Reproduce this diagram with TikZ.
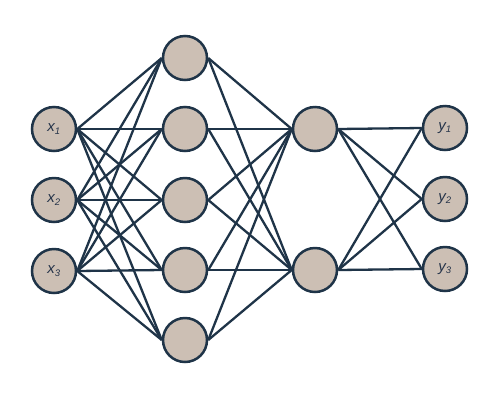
\documentclass[tikz,border=0pt]{standalone}
\usepackage{fontspec}
\setmainfont{Liberation Sans}
\usetikzlibrary{backgrounds}
\definecolor{nodefill}{HTML}{CCBFB4}
\definecolor{edgecol}{HTML}{1F3448}
\definecolor{txtcol}{HTML}{26344A}
\newcommand{\lbl}[2]{#1\textsubscript{\fontsize{9.5}{10}\selectfont #2}}
\begin{document}
\begin{tikzpicture}[x=1pt,y=-1pt,
  neuron/.style={circle,draw=edgecol,fill=nodefill,line width=2.5pt,minimum size=44pt,inner sep=0pt,text=txtcol,font=\fontsize{15}{17}\selectfont\itshape},
  conn/.style={draw=edgecol,line width=2.3pt}]
\useasboundingbox (0,0) rectangle (500,400);
% input
\node[neuron] (i1) at (54,129) {\lbl{x}{1}};
\node[neuron] (i2) at (54,200) {\lbl{x}{2}};
\node[neuron] (i3) at (54,271) {\lbl{x}{3}};
% hidden 1
\node[neuron] (a1) at (185,58) {};
\node[neuron] (a2) at (185,129) {};
\node[neuron] (a3) at (185,200) {};
\node[neuron] (a4) at (185,270) {};
\node[neuron] (a5) at (185,340) {};
% hidden 2
\node[neuron] (b1) at (315,129) {};
\node[neuron] (b2) at (315,270) {};
% output
\node[neuron] (o1) at (445,128) {\lbl{y}{1}};
\node[neuron] (o2) at (445,199) {\lbl{y}{2}};
\node[neuron] (o3) at (445,269) {\lbl{y}{3}};
\begin{scope}[on background layer]
\fill[white] (0,0) rectangle (500,400);
\foreach \i in {1,2,3}{\foreach \j in {1,...,5}{\draw[conn] (i\i.east) -- (a\j.west);}}
\foreach \j in {1,...,5}{\foreach \k in {1,2}{\draw[conn] (a\j.east) -- (b\k.west);}}
\foreach \k in {1,2}{\foreach \m in {1,2,3}{\draw[conn] (b\k.east) -- (o\m.west);}}
\end{scope}
\end{tikzpicture}
\end{document}
